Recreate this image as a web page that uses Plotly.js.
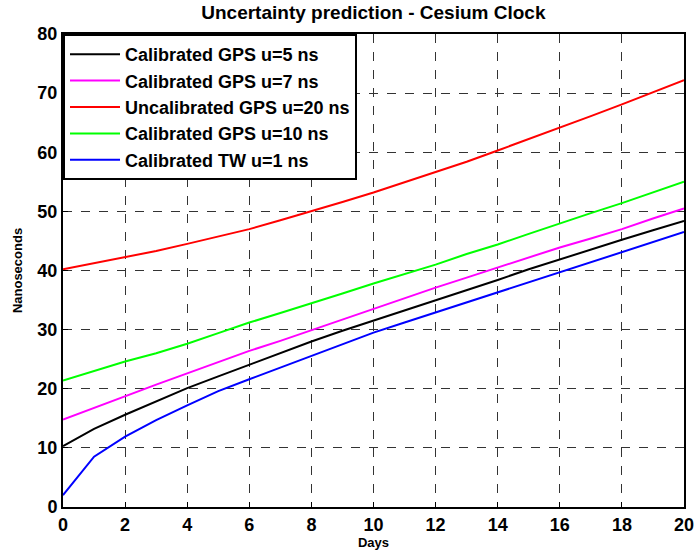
<!DOCTYPE html>
<html>
<head>
<meta charset="utf-8">
<script src="https://cdn.plot.ly/plotly-3.0.1.min.js"></script>
<style>html,body{margin:0;padding:0;background:#fff;}#chart{width:694px;height:554px;}</style>
</head>
<body>
<div id="chart"></div>
<script>
const days = [0,1,2,3,4,5,6,7,8,9,10,11,12,13,14,15,16,17,18,19,20];
const gps5  = [10.3,13.2,15.6,17.9,20.1,22.1,24.1,26.0,28.0,29.8,31.5,33.3,35.0,36.7,38.4,40.2,41.9,43.5,45.2,46.8,48.4];
const gps7  = [14.8,16.8,18.8,20.7,22.6,24.5,26.4,28.1,29.9,31.8,33.6,35.3,37.1,38.8,40.5,42.2,43.9,45.4,47.0,48.8,50.5];
const gps20 = [40.2,41.2,42.2,43.3,44.5,45.7,47.0,48.5,50.0,51.6,53.2,54.9,56.6,58.4,60.3,62.2,64.2,66.1,68.1,70.1,72.2];
const gps10 = [21.4,23.0,24.6,26.0,27.6,29.4,31.2,32.8,34.4,36.1,37.8,39.4,41.0,42.8,44.4,46.2,48.0,49.7,51.4,53.2,55.0];
const tw1   = [2.0,8.5,11.9,14.7,17.2,19.6,21.6,23.6,25.6,27.6,29.5,31.2,32.9,34.6,36.3,38.0,39.8,41.4,43.1,44.8,46.5];

const names = ['Calibrated GPS u=5 ns','Calibrated GPS u=7 ns','Uncalibrated GPS u=20 ns','Calibrated GPS u=10 ns','Calibrated TW u=1 ns'];
const colors = ['#000000','#ff00ff','#ff0000','#00ff00','#0000ff'];
const series = [gps5,gps7,gps20,gps10,tw1];

const traces = series.map((s,i)=>({
  x: days, y: s, type:'scatter', mode:'lines', name: '<b>'+names[i]+'</b>',
  line:{color:colors[i], width:2}
}));

const fnt = 'Liberation Sans, Arial, sans-serif';
const xt = [0,2,4,6,8,10,12,14,16,18,20];
const yt = [0,10,20,30,40,50,60,70,80];
const layout = {
  width:694, height:554,
  margin:{l:63, r:10, t:34, b:47},
  paper_bgcolor:'#fff', plot_bgcolor:'#fff',
  font:{family:fnt, color:'#000'},
  title:{text:'<b>Uncertainty prediction - Cesium Clock</b>', x:0.538, xanchor:'center', y:0.977, yanchor:'middle', font:{size:19, family:fnt}},
  xaxis:{
    range:[0,20], tickvals:xt, ticktext:xt.map(v=>'<b>'+v+'</b>'),
    tickfont:{size:18}, ticks:'inside', ticklen:5, tickcolor:'#000', tickwidth:1,
    ticklabeloverflow:'allow',
    showgrid:true, gridcolor:'#333', griddash:'dash', gridwidth:1,
    showline:true, linecolor:'#000', linewidth:2, mirror:true, zeroline:false,
    title:{text:'<b>Days</b>', font:{size:13}, standoff:4}
  },
  yaxis:{
    range:[0,80], tickvals:yt, ticktext:yt.map(v=>'<b>'+v+'</b>'),
    tickfont:{size:18}, ticks:'inside', ticklen:5, tickcolor:'#000', tickwidth:1,
    ticklabeloverflow:'allow',
    showgrid:true, gridcolor:'#333', griddash:'dash', gridwidth:1,
    showline:true, linecolor:'#000', linewidth:2, mirror:true, zeroline:false,
    title:{text:'<b>Nanoseconds</b>', font:{size:13}, standoff:12}
  },
  legend:{
    x:0, y:1, xanchor:'left', yanchor:'top',
    bgcolor:'#fff', bordercolor:'#000', borderwidth:2,
    font:{size:18, family:fnt, color:'#000'},
    itemwidth:50,
    tracegroupgap:0
  },
  showlegend:true
};
Plotly.newPlot('chart', traces, layout, {displayModeBar:false, staticPlot:true});
</script>
</body>
</html>
